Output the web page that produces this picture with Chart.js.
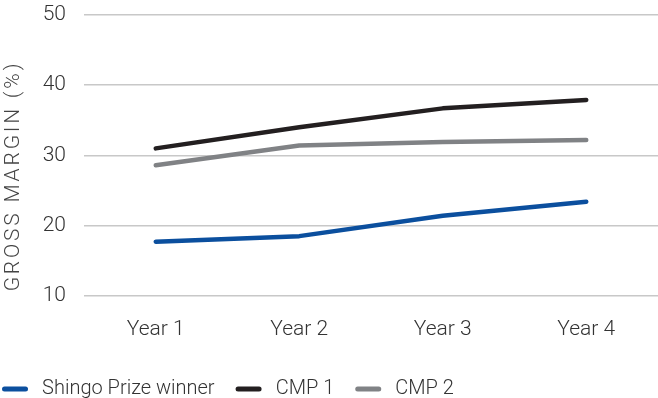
<!DOCTYPE html>
<html>
<head>
<meta charset="utf-8">
<script src="https://cdn.jsdelivr.net/npm/chart.js@4.4.1/dist/chart.umd.min.js"></script>
<style>
  html, body { margin: 0; padding: 0; background: #fff; }
  #wrap { width: 658px; height: 398px; position: relative; }
</style>
</head>
<body>
<div id="wrap"><canvas id="myChart"></canvas></div>
<script>
const years = ['Year 1', 'Year 2', 'Year 3', 'Year 4'];
const shingoWinner = [17.7, 18.5, 21.4, 23.4];
const cmp1 = [31.0, 34.0, 36.7, 37.9];
const cmp2 = [28.6, 31.4, 31.9, 32.2];
const yTicks = [10, 20, 30, 40, 50];

const FONT = 'Roboto';
const TEXT = '#333';

// rotated y title, drawn by hand so it can have letter spacing
const yTitlePlugin = {
  id: 'yTitle',
  afterLayout(chart) {
    // pull the legend to the left edge like the original
    chart.legend.left -= 19;
    chart.legend.right -= 19;
  },
  afterDraw(chart) {
    const ctx = chart.ctx;
    ctx.save();
    ctx.translate(14, 176);
    ctx.rotate(-Math.PI / 2);
    ctx.font = '300 21px ' + FONT;
    ctx.letterSpacing = '2.8px';
    ctx.fillStyle = '#444';
    ctx.textAlign = 'center';
    ctx.textBaseline = 'middle';
    ctx.fillText('GROSS MARGIN (%)', 0, 0);
    ctx.restore();
  }
};

const ctx = document.getElementById('myChart');
new Chart(ctx, {
  type: 'line',
  data: {
    labels: years,
    datasets: [
      { label: 'Shingo Prize winner', data: shingoWinner, borderColor: '#0b4f9e', backgroundColor: '#0b4f9e' },
      { label: 'CMP 1', data: cmp1, borderColor: '#231f20', backgroundColor: '#231f20' },
      { label: 'CMP 2', data: cmp2, borderColor: '#808285', backgroundColor: '#808285' },
    ],
  },
  options: {
    responsive: true,
    maintainAspectRatio: false,
    animation: false,
    elements: {
      line: { borderWidth: 4.5, borderCapStyle: 'round', borderJoinStyle: 'round', tension: 0 },
      point: { radius: 0 },
    },
    layout: { padding: { left: 0, right: 0, top: 15, bottom: -11 } },
    scales: {
      x: {
        offset: true,
        grid: { display: false },
        border: { display: false },
        afterFit: (axis) => { axis.height += 3; },
        ticks: { color: TEXT, font: { family: FONT, size: 21, weight: '300' }, padding: 13 },
      },
      y: {
        min: 10,
        max: 50,
        afterBuildTicks: (axis) => { axis.ticks = yTicks.map(v => ({ value: v })); },
        afterFit: (axis) => {
          axis.width = 84;
          axis.paddingTop = 0;
          axis.paddingBottom = 0;
        },
        grid: { color: '#c8c8c8', lineWidth: 1.5, drawTicks: false },
        border: { display: false },
        ticks: { color: TEXT, font: { family: FONT, size: 21, weight: '300' }, padding: 18 },
      },
    },
    plugins: {
      tooltip: { enabled: false },
      legend: {
        position: 'bottom',
        align: 'start',
        labels: {
          color: TEXT,
          font: { family: FONT, size: 20, weight: '300' },
          boxWidth: 26,
          boxHeight: 5,
          useBorderRadius: true,
          borderRadius: 2.5,
          padding: 21,
          generateLabels: (chart) => chart.data.datasets.map((ds, i) => ({
            text: '\u2009' + ds.label,
            fillStyle: ds.borderColor,
            strokeStyle: ds.borderColor,
            lineWidth: 0,
            fontColor: TEXT,
            datasetIndex: i,
            borderRadius: 2.5,
          })),
        },
      },
    },
  },
  plugins: [yTitlePlugin],
});
</script>
</body>
</html>
